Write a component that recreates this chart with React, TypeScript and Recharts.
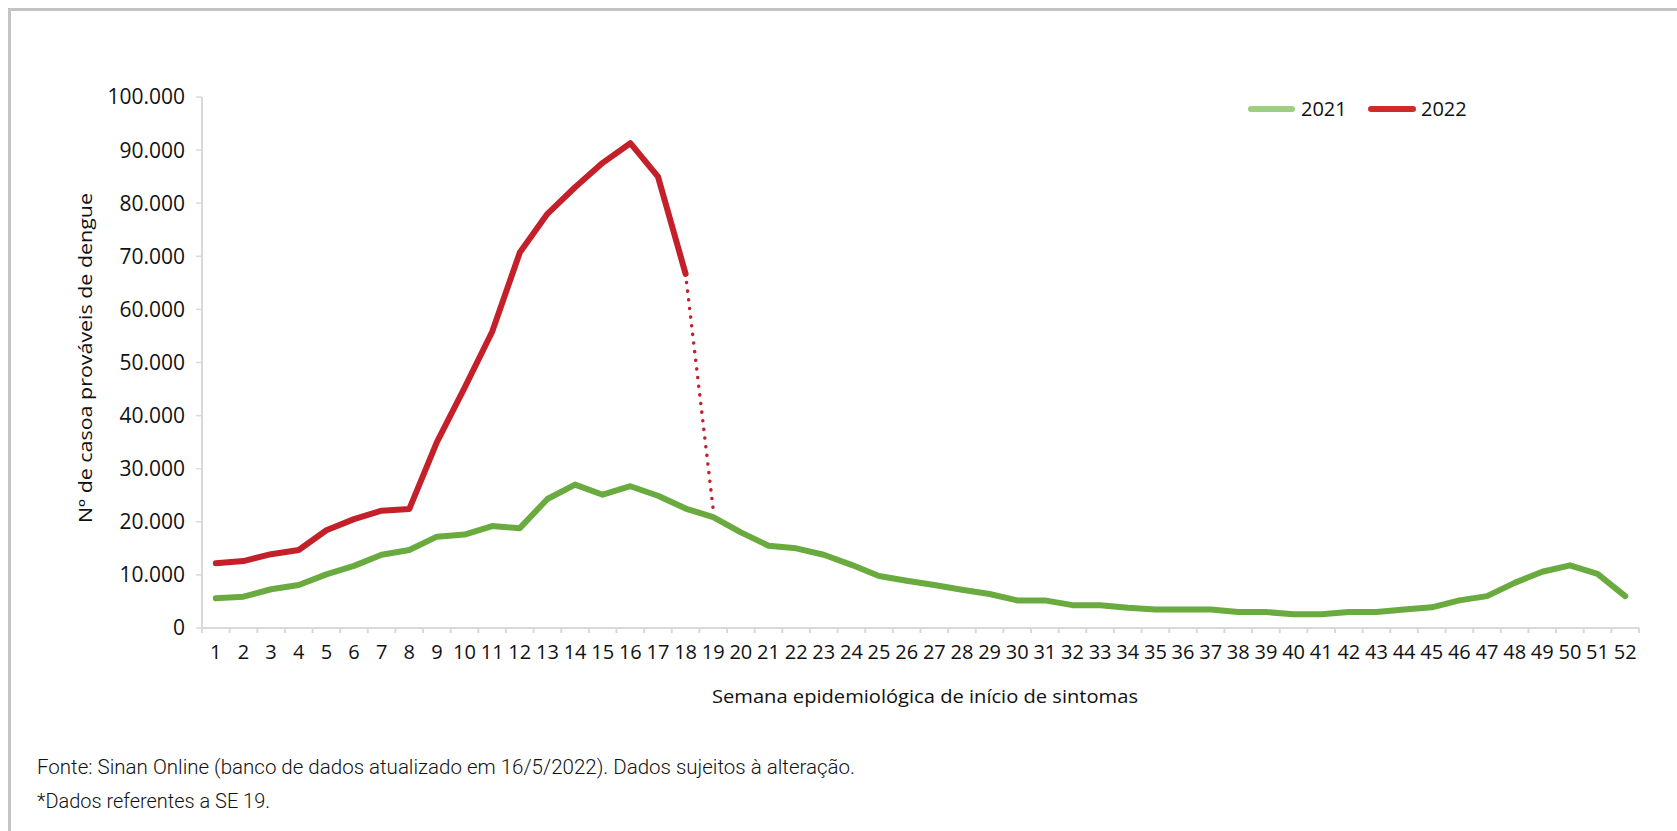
import React from "react";
import { LineChart, Line, XAxis, YAxis } from "recharts";

// semana epidemiológica 1..52
const weeks = [
  1, 2, 3, 4, 5, 6, 7, 8, 9, 10, 11, 12, 13, 14, 15, 16, 17, 18, 19, 20, 21, 22, 23, 24, 25, 26,
  27, 28, 29, 30, 31, 32, 33, 34, 35, 36, 37, 38, 39, 40, 41, 42, 43, 44, 45, 46, 47, 48, 49, 50, 51, 52,
];

const cases2021 = [
  5600, 5900, 7300, 8100, 10100, 11700, 13800, 14700, 17200, 17600,
  19200, 18800, 24300, 27000, 25100, 26700, 24900, 22500, 20900, 18000,
  15500, 15000, 13800, 11900, 9800, 8900, 8100, 7200, 6400, 5200,
  5200, 4300, 4300, 3800, 3500, 3500, 3500, 3000, 3000, 2600,
  2600, 3000, 3000, 3500, 3900, 5200, 6000, 8500, 10600, 11800,
  10200, 6000,
];

// 2022 only up to SE 18
const cases2022 = [
  12200, 12600, 13900, 14700, 18400, 20500, 22100, 22400, 35000, 45200,
  55800, 70700, 78000, 83000, 87600, 91300, 85000, 66700,
];

// dotted link SE 18 -> SE 19 (dados parciais)
const partialWeeks = [18, 19];
const partialCases = [66700, 22300];

const yTicks = [0, 10000, 20000, 30000, 40000, 50000, 60000, 70000, 80000, 90000, 100000];

const GREEN = "#6aab40";
const RED = "#c42029";
const AXIS = "#d9d9d9";
const INK = "#111";
const FONT = "'Open Sans', 'Noto Sans', sans-serif";

const data = weeks.map((w, i) => {
  const j = partialWeeks.indexOf(w);
  return {
    week: w,
    y2021: cases2021[i],
    y2022: i < cases2022.length ? cases2022[i] : null,
    partial: j >= 0 ? partialCases[j] : null,
  };
});

// label at every week, tick mark between weeks (excel style)
const xTicks = weeks.flatMap((w) => [w - 0.5, w]).concat([weeks[weeks.length - 1] + 0.5]);

const fmt = (v: number) => String(v).replace(/\B(?=(\d{3})+(?!\d))/g, ".");

const WeekTick = (props: any) => {
  const { x, y, payload } = props;
  const v = payload.value;
  if (Number.isInteger(v)) {
    return (
      <text x={x} y={y + 25} textAnchor="middle" fontSize={20} fontWeight={500} fontFamily={FONT} fill={INK}>
        {v}
      </text>
    );
  }
  return <line x1={x} x2={x} y1={y - 6} y2={y - 1} stroke={AXIS} strokeWidth={2} />;
};

const App = () => {
  return (
    <div
      style={{
        position: "absolute",
        left: 0,
        top: 0,
        width: 1677,
        height: 831,
        background: "#fff",
        overflow: "hidden",
      }}
    >
      <div
        style={{
          position: "absolute",
          left: 8,
          top: 8,
          width: 1677,
          height: 831,
          borderTop: "3px solid #c4c4c4",
          borderLeft: "3px solid #c4c4c4",
        }}
      />
      <LineChart
        width={1677}
        height={831}
        data={data}
        margin={{ top: 97, right: 38, bottom: 173, left: 142 }}
        style={{ position: "absolute", left: 0, top: 0 }}
      >
        <XAxis
          dataKey="week"
          type="number"
          domain={[0.5, 52.5]}
          ticks={xTicks}
          interval={0}
          tick={<WeekTick />}
          tickLine={false}
          tickSize={6}
          tickMargin={0}
          axisLine={{ stroke: AXIS, strokeWidth: 2 }}
          height={30}
        />
        <YAxis
          type="number"
          domain={[0, 100000]}
          ticks={yTicks}
          interval={0}
          tickFormatter={fmt}
          tickSize={6}
          tickMargin={11}
          tickLine={{ stroke: AXIS, strokeWidth: 1.5 }}
          axisLine={{ stroke: AXIS, strokeWidth: 2 }}
          tick={{ fontSize: 21, fontWeight: 500, fill: INK, fontFamily: FONT }}
          width={60}
        />
        <Line
          dataKey="y2021"
          name="2021"
          type="linear"
          stroke={GREEN}
          strokeWidth={6}
          strokeLinecap="round"
          strokeLinejoin="round"
          dot={false}
          activeDot={false}
          isAnimationActive={false}
        />
        <Line
          dataKey="partial"
          type="linear"
          stroke={RED}
          strokeWidth={3.5}
          strokeDasharray="0.1 8.6"
          strokeLinecap="round"
          dot={false}
          activeDot={false}
          legendType="none"
          isAnimationActive={false}
        />
        <Line
          dataKey="y2022"
          name="2022"
          type="linear"
          stroke={RED}
          strokeWidth={6}
          strokeLinecap="round"
          strokeLinejoin="round"
          dot={false}
          activeDot={false}
          isAnimationActive={false}
        />
      </LineChart>
      <svg
        width={1677}
        height={831}
        style={{ position: "absolute", left: 0, top: 0, pointerEvents: "none" }}
      >
        {/* legend */}
        <line x1={1251} x2={1292} y1={109} y2={109} stroke="#9dcf80" strokeWidth={6} strokeLinecap="round" />
        <text x={1301} y={116} fontSize={20} fontWeight={500} fontFamily={FONT} fill={INK}>2021</text>
        <line x1={1371} x2={1413} y1={109} y2={109} stroke="#d22a27" strokeWidth={6} strokeLinecap="round" />
        <text x={1421} y={116} fontSize={20} fontWeight={500} fontFamily={FONT} fill={INK}>2022</text>

        {/* axis titles */}
        <text
          transform="translate(85,358) rotate(-90)"
          textAnchor="middle"
          dominantBaseline="central"
          fontSize={19}
          fontFamily={FONT}
          fill={INK}
          textLength={330}
          lengthAdjust="spacingAndGlyphs"
        >
          Nº de casoa prováveis de dengue
        </text>
        <text
          x={712}
          y={703}
          fontSize={19}
          fontWeight={500}
          fontFamily={FONT}
          fill={INK}
          textLength={426}
          lengthAdjust="spacingAndGlyphs"
        >
          Semana epidemiológica de início de sintomas
        </text>

        {/* source */}
        <text
          x={37}
          y={774}
          fontSize={20}
          fontWeight={300}
          fontFamily="Roboto, 'Open Sans', sans-serif"
          fill={INK}
          textLength={818}
          lengthAdjust="spacingAndGlyphs"
        >
          Fonte: Sinan Online (banco de dados atualizado em 16/5/2022). Dados sujeitos à alteração.
        </text>
        <text
          x={37}
          y={808}
          fontSize={20}
          fontWeight={300}
          fontFamily="Roboto, 'Open Sans', sans-serif"
          fill={INK}
          textLength={233}
          lengthAdjust="spacingAndGlyphs"
        >
          *Dados referentes a SE 19.
        </text>
      </svg>
    </div>
  );
};

export default App;
